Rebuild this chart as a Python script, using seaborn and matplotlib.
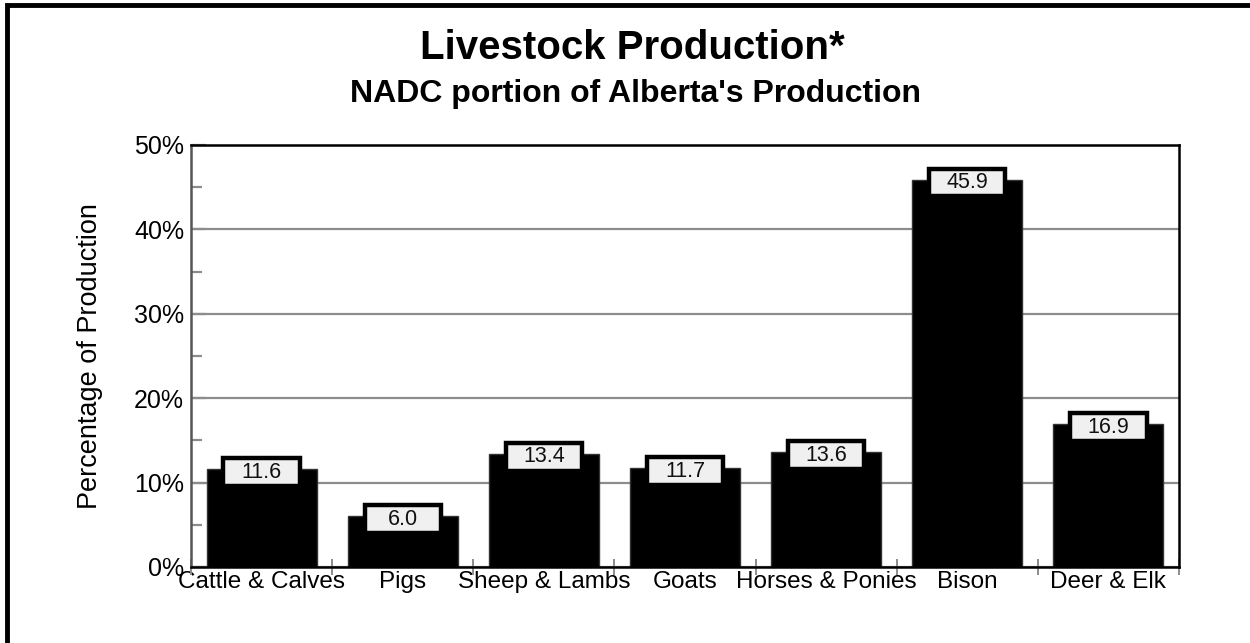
import numpy as np
import pandas as pd
import matplotlib
matplotlib.use("Agg")
import matplotlib.pyplot as plt
from matplotlib.patches import Rectangle
from matplotlib.ticker import MultipleLocator, FuncFormatter
import seaborn as sns

# --- data ---
categories = ["Cattle & Calves", "Pigs", "Sheep & Lambs", "Goats",
              "Horses & Ponies", "Bison", "Deer & Elk"]
share_pct = [11.6, 6.0, 13.4, 11.7, 13.6, 45.9, 16.9]
value_labels = ["11.6", "6.0", "13.4", "11.7", "13.6", "45.9", "16.9"]

df = pd.DataFrame({"animal": categories, "share": share_pct})

sns.set_style("white")
plt.rcParams["font.family"] = ["Liberation Sans", "DejaVu Sans"]
plt.rcParams["text.color"] = "black"
plt.rcParams["axes.labelcolor"] = "black"
plt.rcParams["xtick.labelcolor"] = "black"
plt.rcParams["ytick.labelcolor"] = "black"

fig = plt.figure(figsize=(12.5, 6.43), dpi=100)
ax = fig.add_axes([191 / 1250, 1 - 567 / 643, 988 / 1250, 422 / 643])

# grid behind the bars
ax.set_axisbelow(True)
ax.yaxis.grid(True, which="major", color="#8c8c8c", linewidth=1.6)

sns.barplot(data=df, x="animal", y="share", color="black", width=0.78,
            saturation=1, edgecolor="#333333", linewidth=1, ax=ax)

# value boxes sitting on top of each bar
for patch, lab in zip(ax.patches, value_labels):
    xc = patch.get_x() + patch.get_width() / 2
    top = patch.get_height()
    ax.add_patch(Rectangle((xc - 0.27, top - 2.0), 0.54, 3.3,
                           facecolor="#f0f0f0", edgecolor="black",
                           linewidth=3.2, zorder=5))
    ax.text(xc, top - 0.35, lab, ha="center", va="center",
            fontsize=15.5, color="#111111", zorder=6)

ax.set_xlim(-0.5, len(categories) - 0.5)
ax.set_ylim(0, 50)
ax.yaxis.set_major_locator(MultipleLocator(10))
ax.yaxis.set_minor_locator(MultipleLocator(5))
ax.yaxis.set_major_formatter(FuncFormatter(lambda v, p: f"{v:.0f}%"))
ax.tick_params(axis="y", which="major", direction="in", length=11,
               width=1.6, color="#8c8c8c", labelsize=18, pad=5, left=True)
ax.tick_params(axis="y", which="minor", direction="in", length=8,
               width=1.6, color="#8c8c8c", left=True)

# category dividers as minor ticks on the x axis
ax.set_xticks(np.arange(len(categories) + 1) - 0.5, minor=True)
ax.tick_params(axis="x", which="minor", direction="inout", length=12,
               width=1.4, color="#8c8c8c", bottom=True)
ax.tick_params(axis="x", which="major", length=0, labelsize=17.5, pad=3)

ax.set_xlabel("")
ax.set_ylabel("Percentage of Production", fontsize=19.5, labelpad=22)

for side in ["top", "right", "bottom"]:
    ax.spines[side].set_visible(True)
    ax.spines[side].set_color("black")
    ax.spines[side].set_linewidth(1.8)
ax.spines["left"].set_color("#555555")
ax.spines["left"].set_linewidth(1.8)

fig.text(0.506, 1 - 59 / 643, "Livestock Production*", ha="center",
         va="baseline", fontsize=29, fontweight="bold")
fig.text(0.508, 1 - 102 / 643, "NADC portion of Alberta's Production",
         ha="center", va="baseline", fontsize=23, fontweight="bold")

# outer frame (runs off the right and bottom edges like the original)
fig.patches.append(Rectangle((7 / 1250, -0.05), 1.1, 1 - 5 / 643 + 0.05,
                             transform=fig.transFigure, fill=False,
                             edgecolor="black", linewidth=3.5))

fig.savefig("out.png", dpi=100)
